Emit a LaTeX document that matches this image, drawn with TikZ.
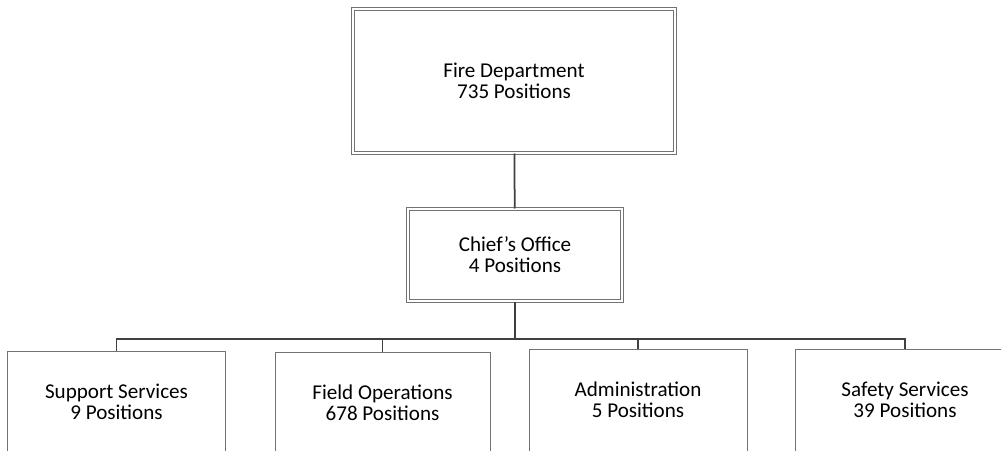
\documentclass[tikz,border=0pt]{standalone}
\usepackage{fontspec}
\setmainfont{Carlito}
\begin{document}
\begin{tikzpicture}[x=0.2mm, y=-0.2mm,
        box/.style = {draw=black!55, line width=0.2mm, fill=white, align=center, inner sep=0pt,
            font=\fontsize{12}{12}\selectfont},
        dbox/.style = {box, double, double distance=0.4mm},
        link/.style = {draw=black!75, line width=0.35mm}]
    \path[use as bounding box, fill=white] (0,0) rectangle (1001,451);
    \clip (0,0) rectangle (1001,451);
    % top of the chart
    \node[dbox, minimum width=64.4mm, minimum height=28.8mm] (dept) at (514,81) {Fire Department\\735 Positions};
    \node[dbox, minimum width=42.8mm, minimum height=18.4mm] (chief) at (515,255) {Chief’s Office\\4 Positions};
    % divisions
    \node[box, minimum width=43.4mm, minimum height=20.4mm] (sup) at (116.5,402) {Support Services\\9 Positions};
    \node[box, minimum width=43mm, minimum height=20.4mm] (field) at (382.5,403) {Field Operations\\678 Positions};
    \node[box, minimum width=43.6mm, minimum height=20.4mm] (admin) at (638,400) {Administration\\5 Positions};
    \node[box, minimum width=44mm, minimum height=20.4mm] (safe) at (905,400) {Safety Services\\39 Positions};
    \coordinate (bus) at (515,339);
    \draw[link] (dept) -- (chief);
    \draw[link] (chief) -- (bus);
    \foreach \n in {sup,field,admin,safe}
        \draw[link] (bus) -| (\n.north);
\end{tikzpicture}
\end{document}
